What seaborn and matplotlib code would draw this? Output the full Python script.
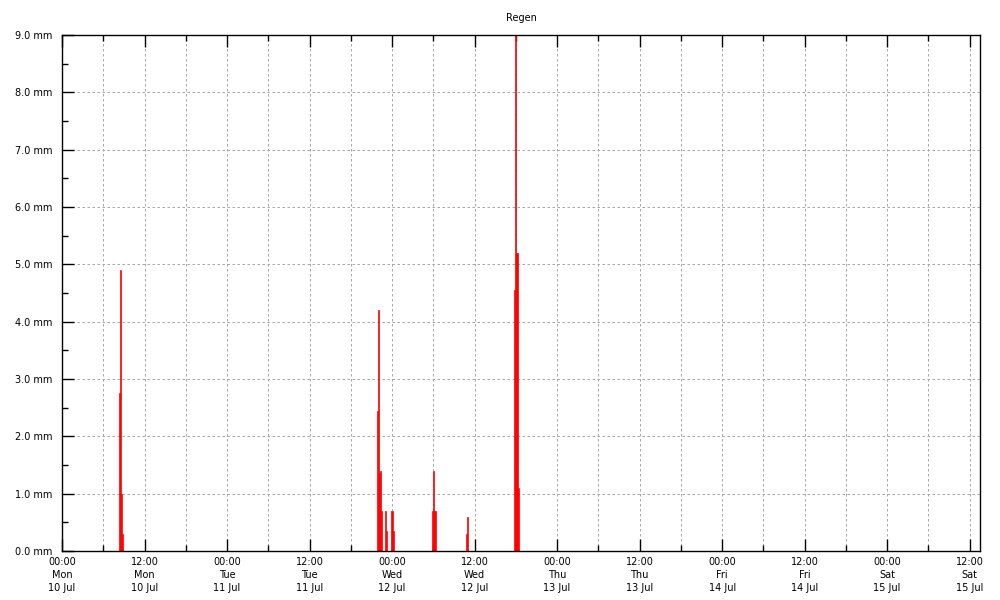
import matplotlib
matplotlib.use("Agg")
import matplotlib.pyplot as plt
import seaborn as sns
import numpy as np
import pandas as pd
from matplotlib.ticker import MultipleLocator, FixedLocator

# Rain events: hours since Mon 10 Jul 00:00, amount in mm (10-minute steps)
rain_hours = [8.333, 8.5, 8.667, 8.833,
              45.833, 46.0, 46.167, 46.333, 46.5, 47.0, 47.167, 48.0, 48.167,
              53.833, 54.0, 54.167, 54.333, 58.833, 59.0,
              65.833, 66.0, 66.167, 66.333]
rain_mm = [2.75, 4.9, 1.0, 0.3,
           2.45, 4.2, 1.36, 1.4, 0.7, 0.7, 0.35, 0.7, 0.35,
           0.7, 1.4, 0.7, 0.7, 0.3, 0.6,
           4.55, 9.6, 5.2, 1.1]

tick_hours = [0, 12, 24, 36, 48, 60, 72, 84, 96, 108, 120, 132]
tick_labels = ["00:00\nMon\n10 Jul", "12:00\nMon\n10 Jul",
               "00:00\nTue\n11 Jul", "12:00\nTue\n11 Jul",
               "00:00\nWed\n12 Jul", "12:00\nWed\n12 Jul",
               "00:00\nThu\n13 Jul", "12:00\nThu\n13 Jul",
               "00:00\nFri\n14 Jul", "12:00\nFri\n14 Jul",
               "00:00\nSat\n15 Jul", "12:00\nSat\n15 Jul"]
y_ticks = [0, 1, 2, 3, 4, 5, 6, 7, 8, 9]
y_labels = ["%.1f mm" % v for v in y_ticks]
title = "Regen"

sns.set_style("white")
plt.rcParams['font.family'] = ['DejaVu Sans']
plt.rcParams['text.color'] = 'black'
plt.rcParams['xtick.color'] = 'black'
plt.rcParams['ytick.color'] = 'black'

fig = plt.figure(figsize=(10, 6), dpi=100)
ax = fig.add_axes([0.062, 0.0817, 0.918, 0.86])

df = pd.DataFrame({"t": rain_hours, "mm": rain_mm})
sns.barplot(data=df, x="t", y="mm", native_scale=True, width=1.0,
            color="#ff0000", errorbar=None, ax=ax, linewidth=0.5,
            edgecolor="#ff0000", saturation=1, zorder=3)

ax.set_xlim(0, 133.5)
ax.set_ylim(0, 9)
ax.set_xlabel("")
ax.set_ylabel("")

ax.xaxis.set_major_locator(FixedLocator(tick_hours))
ax.set_xticklabels(tick_labels, fontsize=7, linespacing=1.4, color='black')
ax.xaxis.set_minor_locator(MultipleLocator(6))
ax.set_yticks(y_ticks)
ax.set_yticklabels(y_labels, fontsize=7, color='black')
ax.yaxis.set_minor_locator(MultipleLocator(0.5))

ax.tick_params(axis='x', which='both', direction='in', top=True, bottom=True,
               color='black')
ax.tick_params(axis='y', which='both', direction='in', left=True, right=False,
               color='black')
ax.tick_params(axis='both', which='major', length=8.6, width=1)
ax.tick_params(axis='both', which='minor', length=4.3, width=1)
ax.tick_params(axis='x', which='major', pad=4)
ax.tick_params(axis='y', which='major', pad=7)

gls = (0, (2.5, 2.5))
ax.grid(True, axis='x', which='both', color='#a8a8a8', linestyle=gls, linewidth=0.72)
ax.grid(True, axis='y', which='major', color='#a8a8a8', linestyle=gls, linewidth=0.72)
ax.set_axisbelow(True)

for s in ax.spines.values():
    s.set_color('black')
    s.set_linewidth(1)
    s.set_visible(True)
    s.set_zorder(4)

ax.set_title(title, fontsize=7, pad=10, color='black')

fig.savefig("out.png", dpi=100)
